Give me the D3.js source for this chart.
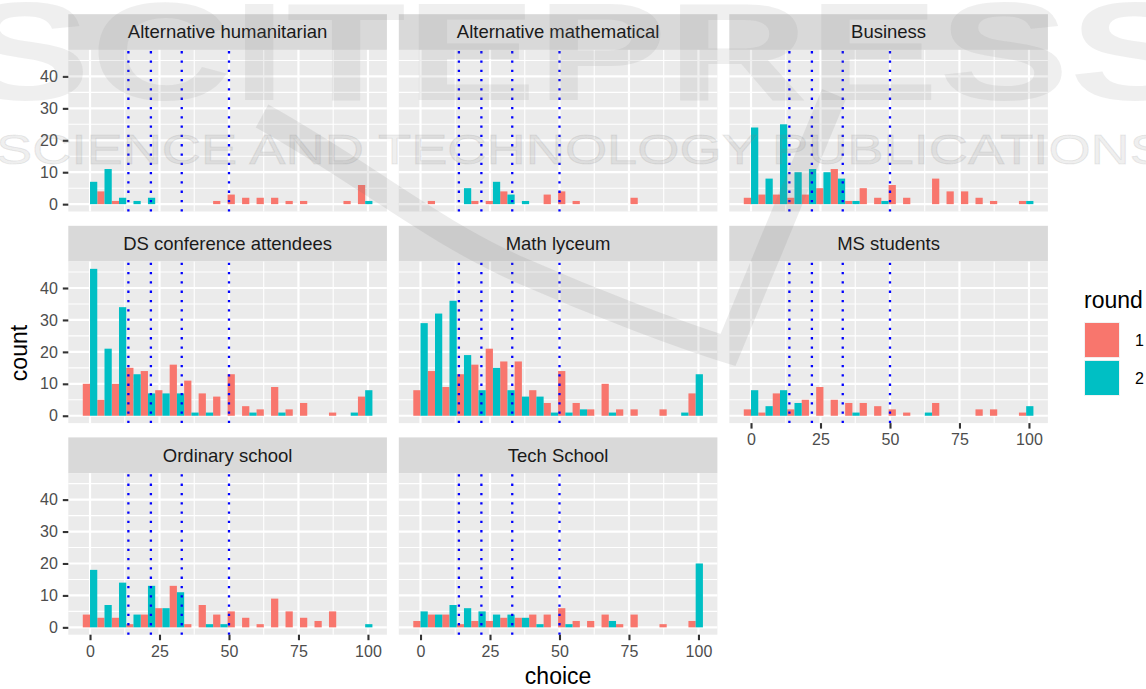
<!DOCTYPE html>
<html>
<head>
<meta charset="utf-8">
<script src="https://cdn.jsdelivr.net/npm/d3@7"></script>
<style>
  html, body { margin: 0; padding: 0; background: #ffffff; }
  svg { display: block; font-family: "Liberation Sans", Arial, Helvetica, sans-serif; }
</style>
</head>
<body>
<svg id="chart" width="1146" height="689"></svg>
<script>
// ---- data -------------------------------------------------------------
const facetNames = [
  "Alternative humanitarian", "Alternative mathematical", "Business",
  "DS conference attendees", "Math lyceum", "MS students",
  "Ordinary school", "Tech School"
];

// counts per histogram bin (20 bins over the choice range), one row per facet
const round1Counts = [
  [0, 4, 1, 0, 0, 0, 0, 0, 0, 1, 3, 2, 2, 2, 1, 1, 0, 0, 1, 6],
  [0, 1, 0, 0, 1, 1, 4, 0, 0, 3, 4, 1, 0, 0, 0, 2, 0, 0, 0, 0],
  [2, 3, 3, 2, 3, 5, 11, 1, 5, 2, 6, 2, 0, 8, 4, 4, 2, 1, 0, 1],
  [10, 5, 10, 15, 14, 8, 16, 11, 7, 6, 13, 3, 2, 9, 2, 4, 0, 1, 0, 6],
  [8, 14, 9, 13, 16, 21, 17, 17, 8, 4, 14, 4, 2, 10, 2, 2, 0, 2, 0, 7],
  [2, 1, 7, 2, 5, 9, 5, 4, 4, 3, 2, 1, 0, 4, 0, 0, 2, 2, 0, 1],
  [4, 3, 3, 1, 4, 6, 13, 1, 7, 4, 5, 3, 1, 9, 5, 3, 2, 5, 0, 0],
  [2, 4, 4, 1, 2, 2, 3, 3, 4, 4, 6, 2, 2, 4, 1, 4, 0, 1, 0, 2]
];
const round2Counts = [
  [7, 11, 2, 1, 2, 0, 0, 0, 0, 0, 0, 0, 0, 0, 0, 0, 0, 0, 0, 1],
  [0, 0, 0, 5, 0, 7, 3, 1, 0, 0, 0, 0, 0, 0, 0, 0, 0, 0, 0, 0],
  [24, 8, 25, 10, 11, 10, 8, 1, 0, 1, 0, 0, 0, 0, 0, 0, 0, 0, 0, 1],
  [46, 21, 34, 13, 7, 7, 7, 1, 1, 0, 0, 1, 0, 1, 0, 0, 0, 0, 1, 8],
  [29, 32, 36, 19, 8, 15, 8, 6, 6, 1, 1, 2, 0, 1, 0, 0, 0, 0, 1, 13],
  [8, 3, 8, 4, 0, 0, 0, 1, 0, 0, 0, 0, 1, 0, 0, 0, 0, 0, 0, 3],
  [18, 7, 14, 4, 13, 6, 11, 0, 1, 1, 0, 0, 0, 0, 0, 0, 0, 0, 0, 1],
  [5, 4, 7, 6, 5, 4, 4, 3, 1, 0, 1, 0, 0, 2, 0, 0, 0, 0, 0, 20]
];

const roundLabels = ["1", "2"];
const roundColors = ["#F8766D", "#00BFC4"];
const choiceRange = [0, 99];
const binCount = 20;
const xTicks = [0, 25, 50, 75, 100];
const yTicks = [0, 10, 20, 30, 40];
const referenceLines = [13.8, 21.9, 33, 50];
const publisherMark = ["SCITEPRESS", "SCIENCE AND TECHNOLOGY PUBLICATIONS"];

// ---- layout -----------------------------------------------------------
const colLeft = [68.3, 398.8, 729.3];
const rowTop = [49.9, 261.5, 473.1];
const panelW = 318.6, panelH = 161.6, stripH = 35.7;
const nCols = 3;

const svg = d3.select("#chart");

// histogram bins: centred on evenly spaced choice values
const binWidth = (choiceRange[1] - choiceRange[0]) / (binCount - 1);
const binCenters = d3.range(binCount).map(i => choiceRange[0] + i * binWidth);
const xLo = choiceRange[0] - binWidth / 2, xHi = choiceRange[1] + binWidth / 2;
const xPad = (xHi - xLo) * 0.05;
const maxCount = d3.max(round1Counts.concat(round2Counts).flat());
const yPad = maxCount * 0.05;

const x = d3.scaleLinear().domain([xLo - xPad, xHi + xPad]).range([0, panelW]);
const y = d3.scaleLinear().domain([-yPad, maxCount + yPad]).range([panelH, 0]);

function minorBreaks(ticks, domain) {
  const step = ticks[1] - ticks[0];
  const out = [];
  for (let v = ticks[0] - step / 2; v <= domain[1]; v += step) {
    if (v >= domain[0]) out.push(v);
  }
  return out;
}
const xMinor = minorBreaks(xTicks, x.domain());
const yMinor = minorBreaks(yTicks, y.domain());

const series = [round1Counts, round2Counts];

facetNames.forEach((name, k) => {
  const row = Math.floor(k / nCols), col = k % nCols;
  const g = svg.append("g")
    .attr("transform", `translate(${colLeft[col]},${rowTop[row]})`);

  // strip
  g.append("rect")
    .attr("x", 0).attr("y", -stripH)
    .attr("width", panelW).attr("height", stripH)
    .attr("fill", "#D9D9D9");
  g.append("text")
    .attr("x", panelW / 2).attr("y", -stripH / 2 + 6.3)
    .attr("text-anchor", "middle")
    .attr("font-size", 18.5)
    .attr("fill", "#1A1A1A")
    .text(name);

  // panel background and grid
  g.append("rect")
    .attr("width", panelW).attr("height", panelH)
    .attr("fill", "#EBEBEB");
  const grid = g.append("g").attr("stroke", "#FFFFFF");
  grid.selectAll(".xmin").data(xMinor).join("line")
    .attr("x1", d => x(d)).attr("x2", d => x(d))
    .attr("y1", 0).attr("y2", panelH).attr("stroke-width", 1.1);
  grid.selectAll(".ymin").data(yMinor).join("line")
    .attr("y1", d => y(d)).attr("y2", d => y(d))
    .attr("x1", 0).attr("x2", panelW).attr("stroke-width", 1.1);
  grid.selectAll(".xmaj").data(xTicks).join("line")
    .attr("x1", d => x(d)).attr("x2", d => x(d))
    .attr("y1", 0).attr("y2", panelH).attr("stroke-width", 2.2);
  grid.selectAll(".ymaj").data(yTicks).join("line")
    .attr("y1", d => y(d)).attr("y2", d => y(d))
    .attr("x1", 0).attr("x2", panelW).attr("stroke-width", 2.2);

  // dodged histogram bars: round 1 on the left half of each bin, round 2 on the right
  series.forEach((counts, s) => {
    const bars = binCenters.map((c, i) => ({ c, n: counts[k][i] })).filter(d => d.n > 0);
    g.append("g").attr("fill", roundColors[s])
      .selectAll("rect").data(bars).join("rect")
      .attr("x", d => x(d.c - binWidth / 2 + s * binWidth / 2))
      .attr("width", d => x(d.c + s * binWidth / 2) - x(d.c - binWidth / 2 + s * binWidth / 2))
      .attr("y", d => y(d.n))
      .attr("height", d => y(0) - y(d.n));
  });

  // dotted reference lines
  g.append("g").selectAll("line").data(referenceLines).join("line")
    .attr("x1", d => x(d)).attr("x2", d => x(d))
    .attr("y1", panelH).attr("y2", 0)
    .attr("stroke", "#0000FF")
    .attr("stroke-width", 2.3)
    .attr("stroke-dasharray", "2.3 7");

  // y axis on the first column
  if (col === 0) {
    const ya = g.append("g").call(
      d3.axisLeft(y).tickValues(yTicks).tickSize(5.5).tickPadding(5).tickFormat(d3.format("d")));
    ya.select(".domain").remove();
    ya.selectAll(".tick line").attr("stroke", "#333333").attr("stroke-width", 2.1);
    ya.selectAll(".tick text").attr("fill", "#4D4D4D").attr("font-size", 16)
      .attr("font-family", null);
  }
  // x axis under the lowest panel of each column
  if (k + nCols >= facetNames.length) {
    const xa = g.append("g").attr("transform", `translate(0,${panelH})`).call(
      d3.axisBottom(x).tickValues(xTicks).tickSize(5.5).tickPadding(5).tickFormat(d3.format("d")));
    xa.select(".domain").remove();
    xa.selectAll(".tick line").attr("stroke", "#333333").attr("stroke-width", 2.1);
    xa.selectAll(".tick text").attr("fill", "#4D4D4D").attr("font-size", 16)
      .attr("font-family", null);
  }
});

// axis titles
svg.append("text")
  .attr("x", colLeft[0] + (colLeft[2] + panelW - colLeft[0]) / 2)
  .attr("y", 684)
  .attr("text-anchor", "middle")
  .attr("font-size", 23).attr("fill", "#000000")
  .text("choice");
svg.append("text")
  .attr("transform", "translate(27,353) rotate(-90)")
  .attr("text-anchor", "middle")
  .attr("font-size", 23).attr("fill", "#000000")
  .text("count");

// legend
const legend = svg.append("g").attr("transform", "translate(1084,0)");
legend.append("text")
  .attr("x", 0).attr("y", 308)
  .attr("font-size", 23).attr("fill", "#000000")
  .text("round");
const keyY = d3.scaleBand().domain(roundLabels).range([322, 396]).paddingInner(0.05);
roundLabels.forEach((lab, i) => {
  legend.append("rect")
    .attr("x", 0).attr("y", keyY(lab))
    .attr("width", 36).attr("height", keyY.bandwidth())
    .attr("fill", "#F2F2F2");
  legend.append("rect")
    .attr("x", 1).attr("y", keyY(lab) + 1)
    .attr("width", 34).attr("height", keyY.bandwidth() - 2)
    .attr("fill", roundColors[i]);
  legend.append("text")
    .attr("x", 51).attr("y", keyY(lab) + keyY.bandwidth() / 2 + 5.7)
    .attr("font-size", 16).attr("fill", "#000000")
    .text(lab);
});

// faint publisher mark laid over the figure
const mark = svg.append("g").attr("pointer-events", "none");
mark.append("path")
  .attr("d", "M 262 116 C 360 170, 430 230, 520 270 C 600 305, 680 335, 728 350 L 834 94")
  .attr("fill", "none")
  .attr("stroke", "#7a7a7a").attr("stroke-opacity", 0.14)
  .attr("stroke-width", 26).attr("stroke-linejoin", "miter");
mark.append("text")
  .attr("x", -40).attr("y", 100)
  .attr("textLength", 1240).attr("lengthAdjust", "spacingAndGlyphs")
  .attr("font-size", 140).attr("font-weight", "bold")
  .attr("fill", "#808080").attr("fill-opacity", 0.13)
  .text(publisherMark[0]);
mark.append("text")
  .attr("x", -4).attr("y", 164)
  .attr("textLength", 1170).attr("lengthAdjust", "spacingAndGlyphs")
  .attr("font-size", 42)
  .attr("fill", "#808080").attr("fill-opacity", 0.12)
  .attr("stroke", "#808080").attr("stroke-opacity", 0.16).attr("stroke-width", 1)
  .text(publisherMark[1]);
</script>
</body>
</html>
